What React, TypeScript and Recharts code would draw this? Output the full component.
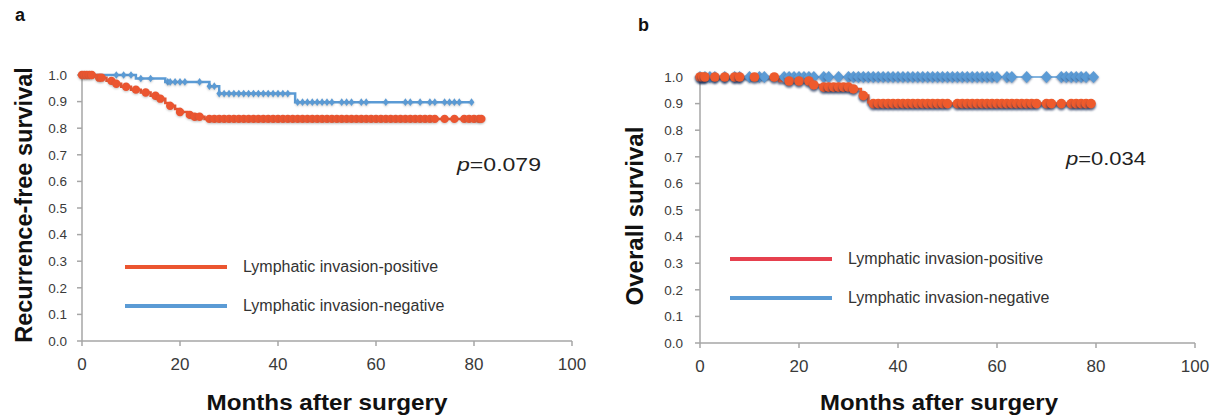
import React from 'react';
import { ComposedChart, Line, Scatter, XAxis, YAxis, Legend } from 'recharts';

// ---------- data ----------
const xTicks = [0, 20, 40, 60, 80, 100];
const yTicks = [0, 0.1, 0.2, 0.3, 0.4, 0.5, 0.6, 0.7, 0.8, 0.9, 1.0];
const seriesNames = ['Lymphatic invasion-positive', 'Lymphatic invasion-negative'];
const pValues = ['0.079', '0.034'];

// Panel a: recurrence-free survival (step events: time, survival)
const rfsPositive = [
  { t: 0, s: 1.0 }, { t: 3, s: 0.99 }, { t: 5, s: 0.978 }, { t: 6.5, s: 0.967 },
  { t: 8, s: 0.956 }, { t: 10, s: 0.945 }, { t: 12, s: 0.934 }, { t: 14, s: 0.922 },
  { t: 15.5, s: 0.911 }, { t: 17, s: 0.895 }, { t: 18, s: 0.884 }, { t: 19, s: 0.872 },
  { t: 20, s: 0.861 }, { t: 21.5, s: 0.85 }, { t: 23, s: 0.843 }, { t: 25, s: 0.835 },
  { t: 81.5, s: 0.835 },
];
const rfsNegative = [
  { t: 0, s: 1.0 }, { t: 11, s: 0.987 }, { t: 17, s: 0.974 }, { t: 26, s: 0.958 },
  { t: 28, s: 0.93 }, { t: 43.5, s: 0.898 }, { t: 79.5, s: 0.898 },
];
const rfsPositiveCensor = [0, 0.5, 1, 1.5, 2, 3.5, 4, 6, 7, 9, 11, 13, 15, 16, 18, 20, 22, 23, 24,
  26, 27, 28, 29, 30, 31, 32, 33, 34, 35, 36, 37, 38, 39, 40, 41, 42, 43, 44, 45, 46, 47, 48, 49, 50,
  51, 52, 53, 54, 55, 56, 57, 58, 59, 60, 61, 62, 63, 64, 65, 66, 67, 68, 69, 70, 71, 72, 74, 76, 78,
  79, 80, 81, 81.5];
const rfsNegativeCensor = [0, 7, 8.5, 10, 12, 14, 17.5, 18, 19, 20, 21, 24, 26, 27, 28, 29, 30, 31, 32,
  33, 34, 35, 36, 37, 38, 39, 40, 41, 42, 44, 45, 46, 47, 48, 49, 50, 51, 53, 54, 55, 57, 58, 62, 66,
  67, 69, 71, 72, 74, 75, 76, 77, 79.5];

// Panel b: overall survival
const osPositive = [
  { t: 0, s: 1.0 }, { t: 16, s: 0.985 }, { t: 23, s: 0.97 }, { t: 25, s: 0.962 },
  { t: 31, s: 0.955 }, { t: 32.5, s: 0.93 }, { t: 34, s: 0.905 }, { t: 35, s: 0.9 },
  { t: 79.5, s: 0.9 },
];
const osNegative = [{ t: 0, s: 1.0 }, { t: 79.5, s: 1.0 }];
const osPositiveCensor = [0, 0.5, 1, 3, 5, 7, 8, 11, 15, 18, 20, 22, 23, 25, 26, 27, 28, 29, 30, 31,
  33, 35, 36, 37, 38, 39, 40, 41, 42, 43, 44, 45, 46, 47, 48, 49, 50, 52, 53, 54, 55, 56, 57, 58, 59,
  60, 61, 62, 63, 64, 65, 66, 67, 68, 70, 71, 73, 75, 76, 77, 78, 79];
const osNegativeCensor = [0, 1, 2, 3, 5, 7, 8, 10, 12, 13, 17, 18, 19, 20, 21, 22, 23, 25, 26, 28, 30,
  31, 32, 33, 34, 35, 36, 37, 38, 39, 40, 41, 42, 43, 44, 45, 46, 47, 48, 49, 50, 51, 52, 53, 54, 55,
  56, 57, 58, 59, 60, 62, 63, 66, 70, 73, 74, 75, 76, 77, 78, 79.5];

// ---------- helpers ----------
const survivalAt = (events: { t: number; s: number }[], t: number) => {
  let s = events[0].s;
  for (const e of events) if (e.t <= t) s = e.s;
  return s;
};
const censorPoints = (events: { t: number; s: number }[], times: number[]) =>
  times.map((t) => ({ t, s: survivalAt(events, t) }));

const FONT = '"Liberation Sans", Arial, sans-serif';
const RED = '#EB5530';
const RED_LEG_B = '#E6404E';
const BLUE = '#5B9BD5';
const AXIS = '#A6A6A6';

const Circle = (r: number, fill: string) => (props: any) => {
  const { cx, cy } = props;
  if (cx == null || cy == null) return <g />;
  return (
    <g style={{ filter: 'drop-shadow(0.5px 1px 0.8px rgba(90,90,90,0.35))' }}>
      <circle cx={cx} cy={cy} r={r} fill={fill} />
    </g>
  );
};
const SmallPlus = (fill: string) => (props: any) => {
  const { cx, cy } = props;
  if (cx == null || cy == null) return <g />;
  return (
    <g style={{ filter: 'drop-shadow(0.5px 1px 0.8px rgba(90,90,90,0.35))' }}>
      <path d={`M${cx - 2.8},${cy} L${cx},${cy - 3.8} L${cx + 2.8},${cy} L${cx},${cy + 3.8} Z`} fill={fill} />
    </g>
  );
};
const Diamond = (fill: string) => (props: any) => {
  const { cx, cy } = props;
  if (cx == null || cy == null) return <g />;
  return (
    <g style={{ filter: 'drop-shadow(0.5px 1.5px 0.8px rgba(40,60,100,0.6))' }}>
      <path d={`M${cx - 5.5},${cy} L${cx},${cy - 6} L${cx + 5.5},${cy} L${cx},${cy + 6} Z`} fill={fill} />
    </g>
  );
};
const ShadowCircle = (r: number, fill: string) => (props: any) => {
  const { cx, cy } = props;
  if (cx == null || cy == null) return <g />;
  return (
    <g style={{ filter: 'drop-shadow(0.5px 2px 0.8px rgba(30,50,90,0.75))' }}>
      <circle cx={cx} cy={cy} r={r} fill={fill} />
    </g>
  );
};

const yTickStyle = { fontFamily: FONT, fontSize: 13.5, fill: '#3a3a3a' };
const xTickStyle = { fontFamily: FONT, fontSize: 17, fill: '#3a3a3a' };

const LegendBox = (colors: string[]) => () => (
  <div style={{ fontFamily: FONT, fontSize: 16, color: '#333' }}>
    {seriesNames.map((n, i) => (
      <div key={n} style={{ display: 'flex', alignItems: 'center', height: 39.5 }}>
        <div style={{ width: 102, height: 4, background: colors[i], marginRight: 16 }} />
        <span>{n}</span>
      </div>
    ))}
  </div>
);

export default function App() {
  return (
    <div style={{ position: 'absolute', left: 0, top: 0, width: 1226, height: 418, background: '#fff' }}>
      <style>{`.os-pos-line path { filter: drop-shadow(0.5px 2px 0.8px rgba(30,50,90,0.8)); }`}</style>
      {/* Panel a */}
      <div style={{ position: 'absolute', left: 0, top: 0 }}>
        <ComposedChart width={612} height={418} margin={{ top: 75, right: 40, bottom: 47, left: 42 }}>
          <XAxis
            type="number" dataKey="t" domain={[0, 100]} ticks={xTicks} height={30} interval={0}
            stroke={AXIS} strokeWidth={1.5} tickSize={5} tickMargin={12} tick={xTickStyle} allowDuplicatedCategory={false}
          />
          <YAxis
            type="number" dataKey="s" domain={[0, 1]} ticks={yTicks} width={40} interval={0}
            stroke={AXIS} strokeWidth={1.5} tickSize={5} tickMargin={10} tick={yTickStyle}
            tickFormatter={(v: number) => v.toFixed(1)}
          />
          <Line data={rfsNegative} dataKey="s" type="stepAfter" stroke={BLUE} strokeWidth={2.5} dot={false} isAnimationActive={false} name={seriesNames[1]} />
          <Scatter data={censorPoints(rfsNegative, rfsNegativeCensor)} dataKey="s" shape={SmallPlus(BLUE)} isAnimationActive={false} legendType="none" />
          <Line data={rfsPositive} dataKey="s" type="stepAfter" stroke={RED} strokeWidth={2.5} dot={false} isAnimationActive={false} name={seriesNames[0]} />
          <Scatter data={censorPoints(rfsPositive, rfsPositiveCensor)} dataKey="s" shape={Circle(4.2, RED)} isAnimationActive={false} legendType="none" />
          <Legend layout="vertical" align="center" verticalAlign="middle" content={LegendBox([RED, BLUE])} wrapperStyle={{ position: 'absolute', left: 125, top: 247, width: 320 }} />
        </ComposedChart>
      </div>

      {/* Panel b */}
      <div style={{ position: 'absolute', left: 612, top: 0 }}>
        <ComposedChart width={614} height={418} margin={{ top: 77, right: 31, bottom: 45, left: 48 }}>
          <XAxis
            type="number" dataKey="t" domain={[0, 100]} ticks={xTicks} height={30} interval={0}
            stroke={AXIS} strokeWidth={1.5} tickSize={5} tickMargin={12} tick={xTickStyle} allowDuplicatedCategory={false}
          />
          <YAxis
            type="number" dataKey="s" domain={[0, 1]} ticks={yTicks} width={40} interval={0}
            stroke={AXIS} strokeWidth={1.5} tickSize={5} tickMargin={12} tick={yTickStyle}
            tickFormatter={(v: number) => v.toFixed(1)}
          />
          <Line data={osNegative} dataKey="s" type="stepAfter" stroke={BLUE} strokeWidth={1.5} dot={false} isAnimationActive={false} name={seriesNames[1]} />
          <Scatter data={censorPoints(osNegative, osNegativeCensor)} dataKey="s" shape={Diamond(BLUE)} isAnimationActive={false} legendType="none" />
          <Line className="os-pos-line" data={osPositive} dataKey="s" type="stepAfter" stroke="#EE5A2C" strokeWidth={2.5} dot={false} isAnimationActive={false} name={seriesNames[0]} />
          <Scatter data={censorPoints(osPositive, osPositiveCensor)} dataKey="s" shape={ShadowCircle(4.8, '#EE5A2C')} isAnimationActive={false} legendType="none" />
          <Legend layout="vertical" align="center" verticalAlign="middle" content={LegendBox([RED_LEG_B, BLUE])} wrapperStyle={{ position: 'absolute', left: 118, top: 239, width: 320 }} />
        </ComposedChart>
      </div>

      {/* Titles and annotations */}
      <svg width={1226} height={418} style={{ position: 'absolute', left: 0, top: 0, pointerEvents: 'none' }}>
        <g fontFamily={FONT} fill="#111">
          <text x={15} y={21} fontSize={18} fontWeight="bold">a</text>
          <text x={638} y={31} fontSize={18} fontWeight="bold">b</text>
          <text x={32} y={205} fontSize={23.5} fontWeight="bold" textAnchor="middle" transform="rotate(-90 32 205)">Recurrence-free survival</text>
          <text x={643} y={216} fontSize={24} fontWeight="bold" textAnchor="middle" transform="rotate(-90 643 216)">Overall survival</text>
          <text x={327} y={410} fontSize={22} fontWeight="bold" textAnchor="middle" textLength={241} lengthAdjust="spacingAndGlyphs">Months after surgery</text>
          <text x={939} y={410} fontSize={22} fontWeight="bold" textAnchor="middle" textLength={238} lengthAdjust="spacingAndGlyphs">Months after surgery</text>
          <text x={457} y={171} fontSize={19} fill="#222" textLength={84} lengthAdjust="spacingAndGlyphs"><tspan fontStyle="italic">p</tspan>={pValues[0]}</text>
          <text x={1066} y={165} fontSize={19} fill="#222" textLength={80} lengthAdjust="spacingAndGlyphs"><tspan fontStyle="italic">p</tspan>={pValues[1]}</text>
        </g>
      </svg>
    </div>
  );
}
